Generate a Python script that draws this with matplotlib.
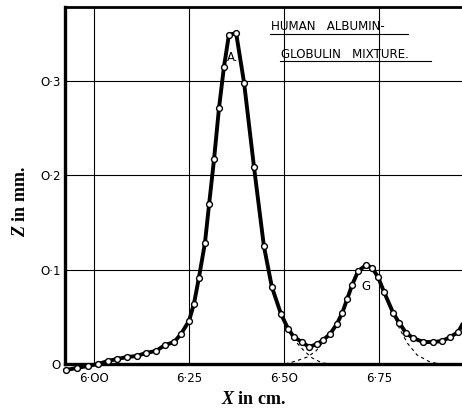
import numpy as np
import matplotlib
matplotlib.use('Agg')
import matplotlib.pyplot as plt

plt.rcParams['mathtext.fontset'] = 'custom'
plt.rcParams['mathtext.it'] = 'Liberation Serif:italic:bold'
plt.rcParams['mathtext.rm'] = 'Liberation Serif:bold'

# observed refractive-gradient curve (X in cm, Z in mm)
x_obs = [5.926, 5.955, 5.984, 6.011, 6.037, 6.061, 6.087, 6.113, 6.137, 6.163,
         6.187, 6.211, 6.229, 6.250, 6.263, 6.276, 6.292, 6.303, 6.316, 6.329,
         6.342, 6.355, 6.374, 6.395, 6.421, 6.447, 6.468, 6.492, 6.511, 6.526,
         6.547, 6.566, 6.587, 6.603, 6.621, 6.639, 6.653, 6.666, 6.679, 6.695,
         6.716, 6.732, 6.747, 6.763, 6.787, 6.803, 6.821, 6.839, 6.866, 6.892,
         6.916, 6.937, 6.958]
z_obs = [-0.0064, -0.0042, -0.0021, 0.0000, 0.0032, 0.0053, 0.0074, 0.0085, 0.0117, 0.0138,
         0.0201, 0.0233, 0.0318, 0.0456, 0.0636, 0.0912, 0.1283, 0.1697, 0.2174, 0.2715,
         0.3150, 0.3489, 0.3510, 0.2980, 0.2089, 0.1251, 0.0817, 0.0530, 0.0371, 0.0286,
         0.0233, 0.0180, 0.0212, 0.0255, 0.0318, 0.0424, 0.0541, 0.0689, 0.0838, 0.0986,
         0.1050, 0.1018, 0.0923, 0.0764, 0.0541, 0.0435, 0.0329, 0.0276, 0.0233, 0.0233,
         0.0244, 0.0286, 0.0339]

# curve continues a little past the last point
x_end = [6.958, 6.968]
z_end = [0.0339, 0.0414]

# resolved components (dashed)
xa_tail = [6.492, 6.511, 6.532, 6.553, 6.574, 6.600, 6.625]
za_tail = [0.0530, 0.0371, 0.0233, 0.0138, 0.0064, 0.0011, 0.0]
xg_left = [6.503, 6.532, 6.561, 6.584, 6.603, 6.621]
zg_left = [0.0, 0.0032, 0.0074, 0.0138, 0.0233, 0.0318]
xg_right = [6.787, 6.803, 6.824, 6.850, 6.884, 6.911]
zg_right = [0.0541, 0.0382, 0.0223, 0.0095, 0.0021, 0.0]

xticks = [6.00, 6.25, 6.50, 6.75]
xlabels = ['6·OO', '6·25', '6·5O', '6·75']
yticks = [0.0, 0.1, 0.2, 0.3]
ylabels = ['O', 'O·1', 'O·2', 'O·3']

fig = plt.figure(figsize=(4.62, 4.12), dpi=100)
ax = fig.add_axes([65 / 462, 48 / 412, 1 - 65 / 462, 357 / 412])

ax.set_xlim(5.924, 6.968)
ax.set_ylim(0, 0.3786)

ax.set_xticks(xticks)
ax.set_xticklabels(xlabels, fontsize=8.5, family='DejaVu Sans')
ax.set_yticks(yticks)
ax.set_yticklabels(ylabels, fontsize=8.5, family='DejaVu Sans')
ax.tick_params(length=0)
ax.tick_params(axis='x', pad=6)
ax.tick_params(axis='y', pad=3)
ax.grid(True, color='black', lw=0.8)

for s in ['left', 'bottom']:
    ax.spines[s].set_linewidth(2.4)
ax.spines['top'].set_linewidth(2.0)
ax.spines['right'].set_visible(False)

dash = (0, (3, 3))
ax.plot(xa_tail, za_tail, ls=dash, color='black', lw=0.8)
ax.plot(xg_left, zg_left, ls=dash, color='black', lw=0.8)
ax.plot(xg_right, zg_right, ls=dash, color='black', lw=0.8)

ax.plot(x_end, z_end, color='black', lw=2.8, clip_on=False)
ax.plot(x_obs, z_obs, color='black', lw=2.8, marker='o', ms=4.2,
        mfc='white', mec='black', mew=1.0, clip_on=False, zorder=5)

ax.text(6.365, 0.3255, 'A.', fontsize=8.5, ha='center', va='center')
ax.text(6.716, 0.0817, 'G', fontsize=8.5, ha='center', va='center')

ax.text(6.465, 0.3575, 'HUMAN   ALBUMIN-', fontsize=8.6, ha='left', va='center')
ax.text(6.492, 0.3285, 'GLOBULIN   MIXTURE.', fontsize=8.6, ha='left', va='center')
ax.plot([6.463, 6.826], [0.3500, 0.3500], color='black', lw=0.8)
ax.plot([6.489, 6.886], [0.3210, 0.3210], color='black', lw=0.8)

ax.set_xlabel('$X$ in cm.', fontsize=13, family='Liberation Serif', fontweight='bold', va='center')
ax.set_ylabel('$Z$ in mm.', fontsize=13, family='Liberation Serif', fontweight='bold', va='center')
ax.xaxis.set_label_coords(0.474, -0.10)
ax.yaxis.set_label_coords(-0.113, 0.454)

plt.savefig('out.png', dpi=100)
